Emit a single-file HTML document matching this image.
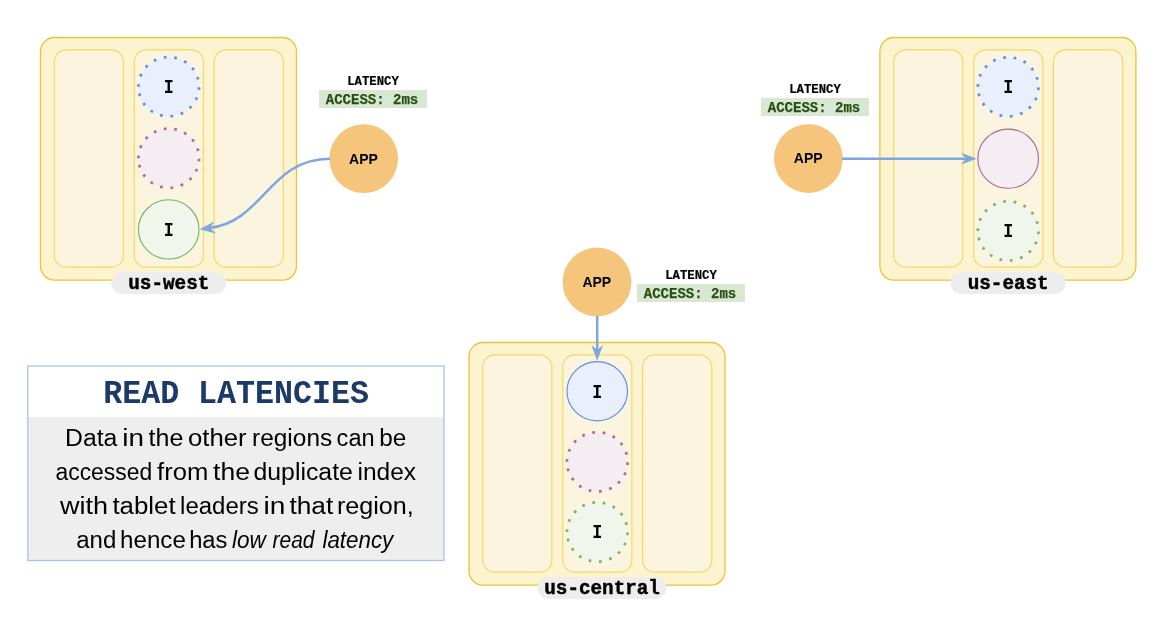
<!DOCTYPE html>
<html><head><meta charset="utf-8"><title>Read latencies</title>
<style>
html,body{margin:0;padding:0;background:#fff;}
body{width:1172px;height:622px;overflow:hidden;font-family:"Liberation Sans",sans-serif;}
svg{display:block;will-change:transform;}
.mono{font-family:"Liberation Mono",monospace;}
.sans{font-family:"Liberation Sans",sans-serif;}
.b{font-weight:bold;}
.i{font-style:italic;}
</style></head><body>
<svg width="1172" height="622" viewBox="0 0 1172 622">
<rect width="1172" height="622" fill="#ffffff"/>
<g transform="translate(40.5,37.5)"><rect x="0" y="0" width="256" height="242.6" rx="14" fill="#FCF3CF" stroke="#E9C436" stroke-width="1.3"/><rect x="13.8" y="12.35" width="69.1" height="217.3" rx="12" fill="#FBF5DF" stroke="#F6D661" stroke-width="1.15"/><rect x="93.8" y="12.35" width="69.1" height="217.3" rx="12" fill="#FBF5DF" stroke="#F6D661" stroke-width="1.15"/><rect x="173.6" y="12.35" width="69.2" height="217.3" rx="12" fill="#FBF5DF" stroke="#F6D661" stroke-width="1.15"/><ellipse cx="128.25" cy="49.2" rx="30.3" ry="29.6" fill="#E9EFFD" stroke="none"/><path d="M97.95,49.2 A30.3,29.6 0 1 1 158.55,49.2 A30.3,29.6 0 1 1 97.95,49.2" fill="none" stroke="#5F8DEA" stroke-width="2.7" stroke-dasharray="2.7 7.8"/><text x="128.25" y="55.55" class="mono b" font-size="19.6" text-anchor="middle" fill="#000" transform="translate(128.25,0) scale(0.85,1) translate(-128.25,0)">I</text><ellipse cx="128.25" cy="120.7" rx="30.3" ry="29.6" fill="#F4EEF2" stroke="none"/><path d="M97.95,120.7 A30.3,29.6 0 1 1 158.55,120.7 A30.3,29.6 0 1 1 97.95,120.7" fill="none" stroke="#B1679A" stroke-width="2.7" stroke-dasharray="2.7 7.8"/><ellipse cx="128.25" cy="191.9" rx="30.3" ry="29.6" fill="#F0F6EC" stroke="#78B660" stroke-width="1.15"/><text x="128.25" y="198.4" class="mono b" font-size="19.6" text-anchor="middle" fill="#000" transform="translate(128.25,0) scale(0.85,1) translate(-128.25,0)">I</text><rect x="70.70000000000002" y="234.5" width="115.2" height="22" rx="11" fill="#EDEDED"/><text x="128.3" y="251.0" class="mono b" font-size="19.3" text-anchor="middle" fill="#000" stroke="#000" stroke-width="0.45">us-west</text></g>
<g transform="translate(879.9,37.5)"><rect x="0" y="0" width="256" height="242.6" rx="14" fill="#FCF3CF" stroke="#E9C436" stroke-width="1.3"/><rect x="13.8" y="12.35" width="69.1" height="217.3" rx="12" fill="#FBF5DF" stroke="#F6D661" stroke-width="1.15"/><rect x="93.8" y="12.35" width="69.1" height="217.3" rx="12" fill="#FBF5DF" stroke="#F6D661" stroke-width="1.15"/><rect x="173.6" y="12.35" width="69.2" height="217.3" rx="12" fill="#FBF5DF" stroke="#F6D661" stroke-width="1.15"/><ellipse cx="128.25" cy="49.35" rx="30.3" ry="29.6" fill="#E9EFFD" stroke="none"/><path d="M97.95,49.35 A30.3,29.6 0 1 1 158.55,49.35 A30.3,29.6 0 1 1 97.95,49.35" fill="none" stroke="#5F8DEA" stroke-width="2.7" stroke-dasharray="2.7 7.8"/><text x="128.25" y="55.3" class="mono b" font-size="19.6" text-anchor="middle" fill="#000" transform="translate(128.25,0) scale(0.85,1) translate(-128.25,0)">I</text><ellipse cx="128.25" cy="121.15" rx="30.3" ry="29.6" fill="#F4EEF2" stroke="#B1679A" stroke-width="1.15"/><ellipse cx="128.25" cy="193.45" rx="30.3" ry="29.6" fill="#F0F6EC" stroke="none"/><path d="M97.95,193.45 A30.3,29.6 0 1 1 158.55,193.45 A30.3,29.6 0 1 1 97.95,193.45" fill="none" stroke="#78B660" stroke-width="2.7" stroke-dasharray="2.7 7.8"/><text x="128.25" y="199.1" class="mono b" font-size="19.6" text-anchor="middle" fill="#000" transform="translate(128.25,0) scale(0.85,1) translate(-128.25,0)">I</text><rect x="70.70000000000002" y="234.5" width="115.2" height="22" rx="11" fill="#EDEDED"/><text x="128.3" y="251.0" class="mono b" font-size="19.3" text-anchor="middle" fill="#000" stroke="#000" stroke-width="0.45">us-east</text></g>
<g transform="translate(469.0,342.5)"><rect x="0" y="0" width="256" height="242.6" rx="14" fill="#FCF3CF" stroke="#E9C436" stroke-width="1.3"/><rect x="13.8" y="12.35" width="69.1" height="217.3" rx="12" fill="#FBF5DF" stroke="#F6D661" stroke-width="1.15"/><rect x="93.8" y="12.35" width="69.1" height="217.3" rx="12" fill="#FBF5DF" stroke="#F6D661" stroke-width="1.15"/><rect x="173.6" y="12.35" width="69.2" height="217.3" rx="12" fill="#FBF5DF" stroke="#F6D661" stroke-width="1.15"/><ellipse cx="128.25" cy="48.75" rx="30.3" ry="29.6" fill="#E9EFFD" stroke="#5F8DEA" stroke-width="1.15"/><text x="128.25" y="55.5" class="mono b" font-size="19.6" text-anchor="middle" fill="#000" transform="translate(128.25,0) scale(0.85,1) translate(-128.25,0)">I</text><ellipse cx="128.25" cy="119.3" rx="30.3" ry="29.6" fill="#F4EEF2" stroke="none"/><path d="M97.95,119.3 A30.3,29.6 0 1 1 158.55,119.3 A30.3,29.6 0 1 1 97.95,119.3" fill="none" stroke="#B1679A" stroke-width="2.7" stroke-dasharray="2.7 7.8"/><ellipse cx="128.25" cy="189.5" rx="30.3" ry="29.6" fill="#F0F6EC" stroke="none"/><path d="M97.95,189.5 A30.3,29.6 0 1 1 158.55,189.5 A30.3,29.6 0 1 1 97.95,189.5" fill="none" stroke="#78B660" stroke-width="2.7" stroke-dasharray="2.7 7.8"/><text x="128.25" y="195.2" class="mono b" font-size="19.6" text-anchor="middle" fill="#000" transform="translate(128.25,0) scale(0.85,1) translate(-128.25,0)">I</text><rect x="68.80000000000003" y="234.5" width="128.6" height="22" rx="11" fill="#EDEDED"/><text x="133.10000000000002" y="251.0" class="mono b" font-size="19.3" text-anchor="middle" fill="#000" stroke="#000" stroke-width="0.45">us-central</text></g>
<circle cx="363.7" cy="158.6" r="34.4" fill="#F5C57B"/><text x="363.5" y="163.54999999999998" class="sans b" font-size="14" text-anchor="middle" fill="#000">APP</text>
<circle cx="808.4" cy="158.5" r="34.4" fill="#F5C57B"/><text x="808.1999999999999" y="163.45" class="sans b" font-size="14" text-anchor="middle" fill="#000">APP</text>
<circle cx="597.0" cy="282" r="34.4" fill="#F5C57B"/><text x="596.8" y="286.95" class="sans b" font-size="14" text-anchor="middle" fill="#000">APP</text>
<text x="373" y="84.8" class="mono b" font-size="12.3" text-anchor="middle" fill="#000" stroke="#000" stroke-width="0.2">LATENCY</text><rect x="319" y="90" width="108" height="18" fill="#D9E8D3"/><text x="372.0" y="103.9" class="mono b" font-size="14" text-anchor="middle" fill="#2A4F14" stroke="#2A4F14" stroke-width="0.25">ACCESS: 2ms</text>
<text x="815" y="92.8" class="mono b" font-size="12.3" text-anchor="middle" fill="#000" stroke="#000" stroke-width="0.2">LATENCY</text><rect x="761" y="98" width="108" height="18" fill="#D9E8D3"/><text x="814.0" y="111.9" class="mono b" font-size="14" text-anchor="middle" fill="#2A4F14" stroke="#2A4F14" stroke-width="0.25">ACCESS: 2ms</text>
<text x="691" y="278.8" class="mono b" font-size="12.3" text-anchor="middle" fill="#000" stroke="#000" stroke-width="0.2">LATENCY</text><rect x="637" y="284" width="108" height="18" fill="#D9E8D3"/><text x="690.0" y="297.9" class="mono b" font-size="14" text-anchor="middle" fill="#2A4F14" stroke="#2A4F14" stroke-width="0.25">ACCESS: 2ms</text>
<path d="M330,158.8 C268.5,158.8 264.0,222.2 208.4,228.2" fill="none" stroke="#7EA6E0" stroke-width="2.5"/>
<path d="M199.5,229.3 L214.4,221.6 L210.0,228.1 L216.0,233.6 Z" fill="#7EA6E0"/>
<path d="M842,158.65 L968,158.65" fill="none" stroke="#7EA6E0" stroke-width="2.5"/>
<path d="M976.8,158.65 L961.1,152.85 L966.1,158.65 L961.1,164.45 Z" fill="#7EA6E0"/>
<path d="M597.2,316 L597.2,352" fill="none" stroke="#7EA6E0" stroke-width="2.5"/>
<path d="M597.2,360.8 L591.4,345.1 L597.2,350.1 L603,345.1 Z" fill="#7EA6E0"/>
<rect x="28" y="366" width="416" height="194" fill="#ffffff"/>
<rect x="28" y="417" width="416" height="143" fill="#EEEEEE"/>
<rect x="27.8" y="366" width="416.2" height="194.5" fill="none" stroke="#A9C4EB" stroke-width="1.3"/>
<text x="103.2" y="403.1" class="mono b" font-size="34" fill="#1B3969" textLength="265.8" lengthAdjust="spacingAndGlyphs">READ LATENCIES</text>
<text x="65.07" y="445.7" class="sans" font-size="23.5" fill="#000" textLength="52.33" lengthAdjust="spacingAndGlyphs">Data</text>
<text x="122.34" y="445.7" class="sans" font-size="23.5" fill="#000" textLength="21.67" lengthAdjust="spacingAndGlyphs">in</text>
<text x="148.62" y="445.7" class="sans" font-size="23.5" fill="#000" textLength="34.79" lengthAdjust="spacingAndGlyphs">the</text>
<text x="188.02" y="445.7" class="sans" font-size="23.5" fill="#000" textLength="58.61" lengthAdjust="spacingAndGlyphs">other</text>
<text x="252.08" y="445.7" class="sans" font-size="23.5" fill="#000" textLength="80.1" lengthAdjust="spacingAndGlyphs">regions</text>
<text x="336.6" y="445.7" class="sans" font-size="23.5" fill="#000" textLength="38.03" lengthAdjust="spacingAndGlyphs">can</text>
<text x="379.23" y="445.7" class="sans" font-size="23.5" fill="#000" textLength="27.05" lengthAdjust="spacingAndGlyphs">be</text>
<text x="55.53" y="479.7" class="sans" font-size="23.5" fill="#000" textLength="96.65" lengthAdjust="spacingAndGlyphs">accessed</text>
<text x="157.14" y="479.7" class="sans" font-size="23.5" fill="#000" textLength="51.25" lengthAdjust="spacingAndGlyphs">from</text>
<text x="213.1" y="479.7" class="sans" font-size="23.5" fill="#000" textLength="36.88" lengthAdjust="spacingAndGlyphs">the</text>
<text x="253.46" y="479.7" class="sans" font-size="23.5" fill="#000" textLength="99.45" lengthAdjust="spacingAndGlyphs">duplicate</text>
<text x="357.46" y="479.7" class="sans" font-size="23.5" fill="#000" textLength="58.6" lengthAdjust="spacingAndGlyphs">index</text>
<text x="59.94" y="513.7" class="sans" font-size="23.5" fill="#000" textLength="48.12" lengthAdjust="spacingAndGlyphs">with</text>
<text x="112.41" y="513.7" class="sans" font-size="23.5" fill="#000" textLength="63.18" lengthAdjust="spacingAndGlyphs">tablet</text>
<text x="180.08" y="513.7" class="sans" font-size="23.5" fill="#000" textLength="78.68" lengthAdjust="spacingAndGlyphs">leaders</text>
<text x="263.42" y="513.7" class="sans" font-size="23.5" fill="#000" textLength="21.91" lengthAdjust="spacingAndGlyphs">in</text>
<text x="289.4" y="513.7" class="sans" font-size="23.5" fill="#000" textLength="43.79" lengthAdjust="spacingAndGlyphs">that</text>
<text x="336.93" y="513.7" class="sans" font-size="23.5" fill="#000" textLength="76.83" lengthAdjust="spacingAndGlyphs">region,</text>
<text x="76.28" y="547.7" class="sans" font-size="23.5" fill="#000" textLength="40.07" lengthAdjust="spacingAndGlyphs">and</text>
<text x="120.02" y="547.7" class="sans" font-size="23.5" fill="#000" textLength="65.85" lengthAdjust="spacingAndGlyphs">hence</text>
<text x="189.15" y="547.7" class="sans" font-size="23.5" fill="#000" textLength="38.31" lengthAdjust="spacingAndGlyphs">has</text>
<text x="231.94" y="547.7" class="sans i" font-size="23.5" fill="#000" textLength="33.85" lengthAdjust="spacingAndGlyphs">low</text>
<text x="272.45" y="547.7" class="sans i" font-size="23.5" fill="#000" textLength="42.09" lengthAdjust="spacingAndGlyphs">read</text>
<text x="322.44" y="547.7" class="sans i" font-size="23.5" fill="#000" textLength="70.84" lengthAdjust="spacingAndGlyphs">latency</text>
</svg>
</body></html>
